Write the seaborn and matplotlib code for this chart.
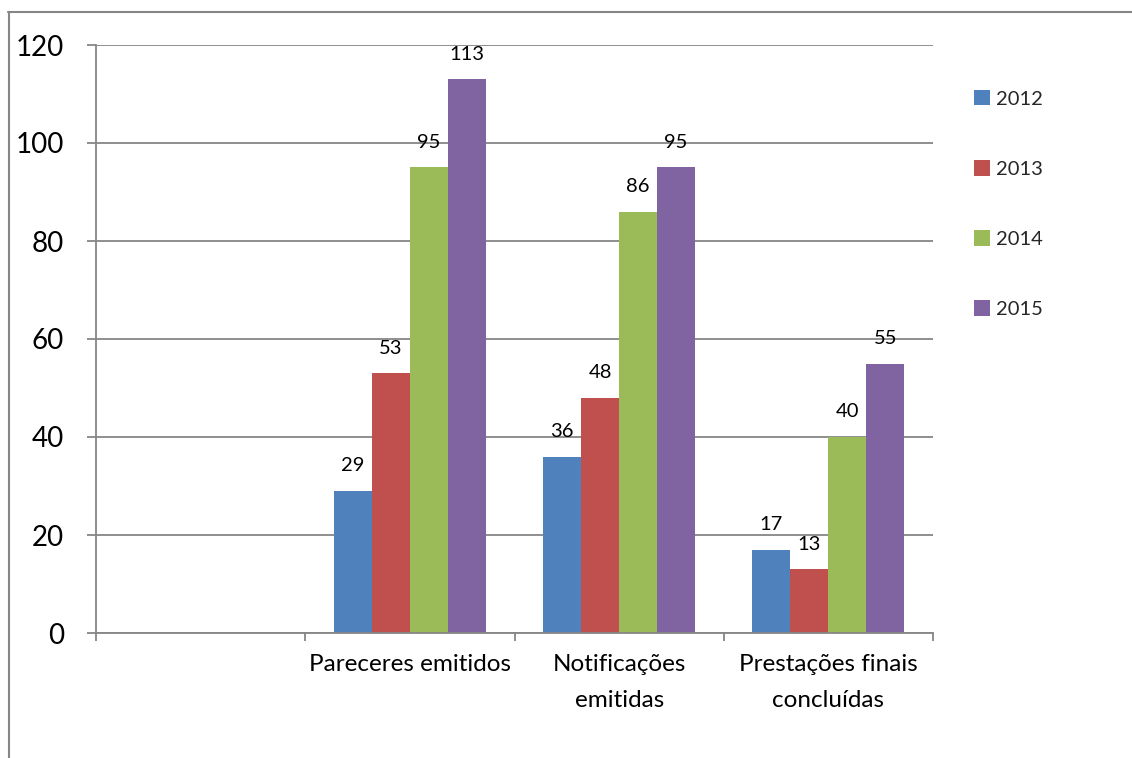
import matplotlib
matplotlib.use("Agg")
import matplotlib.pyplot as plt
from matplotlib.lines import Line2D
from matplotlib.patches import Patch
import seaborn as sns
import pandas as pd
import numpy as np

categories = ["", "Pareceres emitidos", "Notificações\nemitidas", "Prestações finais\nconcluídas"]
years = ["2012", "2013", "2014", "2015"]
values_2012 = [29, 36, 17]
values_2013 = [53, 48, 13]
values_2014 = [95, 86, 40]
values_2015 = [113, 95, 55]
colors = ["#4F81BD", "#C0504D", "#9BBB59", "#8064A2"]
yticks = [0, 20, 40, 60, 80, 100, 120]

series = [values_2012, values_2013, values_2014, values_2015]
rows = []
for year, vals in zip(years, series):
    for cat, v in zip(categories[1:], vals):
        rows.append({"categoria": cat, "ano": year, "valor": v})
df = pd.DataFrame(rows)

sns.set_theme(style="white")
plt.rcParams["font.family"] = ["Lato", "DejaVu Sans"]

fig = plt.figure(figsize=(11.32, 7.58), dpi=100)
ax = fig.add_axes([96 / 1132, 1 - 633 / 758, (933 - 96) / 1132, (633 - 45) / 758])

sns.barplot(data=df, x="categoria", y="valor", hue="ano", order=categories,
            hue_order=years, palette=colors, width=0.727, saturation=1,
            linewidth=0, ax=ax, legend=False)

ax.set_ylim(0, 120)
ax.set_xlim(-0.5, len(categories) - 0.5)
ax.set_yticks(yticks)
ax.set_yticklabels([str(t) for t in yticks], fontsize=20, color="black")
ax.yaxis.grid(True, color="#868686", linewidth=1.3)
ax.set_axisbelow(True)

grey = "#868686"
for side in ["top", "right"]:
    ax.spines[side].set_visible(False)
for side in ["left", "bottom"]:
    ax.spines[side].set_color(grey)
    ax.spines[side].set_linewidth(1.3)

ax.tick_params(axis="y", length=6.5, width=1.3, color=grey, pad=16.5, left=True)
ax.set_xticks(range(len(categories)))
ax.set_xticklabels(categories, fontsize=17.5, color="black", linespacing=1.9)
ax.set_xticks(np.arange(-0.5, len(categories)), minor=True)
ax.tick_params(axis="x", which="major", length=0, pad=15)
ax.tick_params(axis="x", which="minor", length=6, width=1.3, color=grey, bottom=True)
ax.set_xlabel("")
ax.set_ylabel("")

for cont in ax.containers:
    ax.bar_label(cont, fmt="%d", padding=12, fontsize=14.5, color="black")

handles = [Patch(facecolor=c, edgecolor="none") for c in colors]
fig.legend(handles, years, loc="upper left", bbox_to_anchor=(966 / 1132, 1 - 82 / 758),
           frameon=False, fontsize=14.5, handlelength=0.8, handleheight=0.8,
           handletextpad=0.3, labelspacing=2.6, borderaxespad=0)

fig.add_artist(Line2D([8.5 / 1132, 8.5 / 1132], [0, 1 - 12 / 758], color=grey, linewidth=1.5))
fig.add_artist(Line2D([8 / 1132, 1], [1 - 12 / 758, 1 - 12 / 758], color=grey, linewidth=1.5))

fig.savefig("out.png", dpi=100)
